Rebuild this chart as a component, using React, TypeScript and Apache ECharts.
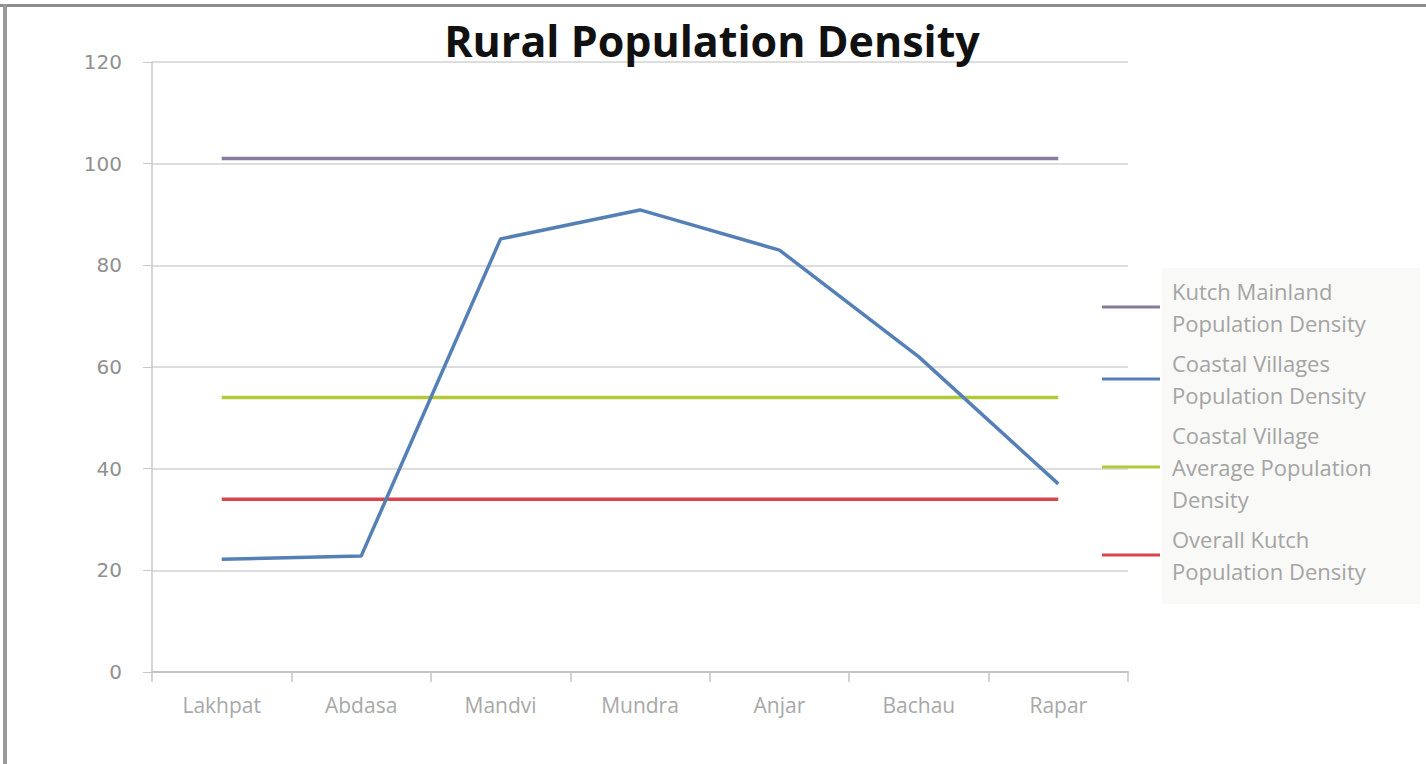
import React, { useEffect, useRef } from "react";
import * as echarts from "echarts";

const categories = ["Lakhpat", "Abdasa", "Mandvi", "Mundra", "Anjar", "Bachau", "Rapar"];
const seriesNames = [
  "Kutch Mainland\nPopulation Density",
  "Coastal Villages\nPopulation Density",
  "Coastal Village\nAverage Population\nDensity",
  "Overall Kutch\nPopulation Density",
];
const mainland = [101, 101, 101, 101, 101, 101, 101];
const coastal = [22.2, 22.8, 85.2, 90.9, 83, 62, 37];
const coastalAvg = [54, 54, 54, 54, 54, 54, 54];
const overall = [34, 34, 34, 34, 34, 34, 34];
const colors = ["#8a7c9f", "#5580b6", "#b3c93a", "#d8454f"];

export default function App() {
  const ref = useRef<HTMLDivElement>(null);
  useEffect(() => {
    document.body.style.margin = "0";
    const chart = echarts.init(ref.current!, null, { renderer: "svg" });
    const values = [mainland, coastal, coastalAvg, overall];
    chart.setOption({
      animation: false,
      backgroundColor: "#ffffff",
      title: {
        text: "Rural Population Density",
        left: 707,
        textAlign: "center",
        top: 14,
        textStyle: { fontFamily: "Open Sans", fontWeight: "bold", fontSize: 43, color: "#111" },
      },
      graphic: [
        { type: "rect", shape: { x: 0, y: 4, width: 1426, height: 3 }, style: { fill: "#8c8c8c" } },
        { type: "rect", shape: { x: 3, y: 4, width: 4, height: 760 }, style: { fill: "#9a9a9a" } },
        { type: "rect", z: -1, shape: { x: 1162, y: 268, width: 258, height: 336 }, style: { fill: "#f9f9f7" } },
      ],
      grid: { left: 152, right: 298, top: 62, bottom: 92 },
      legend: {
        orient: "vertical",
        left: 1102,
        top: 275,
        padding: 0,
        itemGap: 8,
        itemWidth: 58,
        itemHeight: 3,
        icon: "rect",
        data: seriesNames,
        textStyle: { fontFamily: "Open Sans", fontSize: 22, color: "#a4a4a4", lineHeight: 32, padding: [0, 0, 0, 7] },
      },
      xAxis: {
        type: "category",
        data: categories,
        boundaryGap: true,
        axisLine: { lineStyle: { color: "#c4c4c4", width: 2 } },
        axisTick: { show: true, length: 10, lineStyle: { color: "#c4c4c4", width: 1.5 } },
        axisLabel: { fontFamily: "Open Sans", fontSize: 21, color: "#a8a8a8", margin: 22 },
      },
      yAxis: {
        type: "value",
        min: 0,
        max: 120,
        interval: 20,
        axisLine: { show: true, lineStyle: { color: "#c8c8c8", width: 1.5 } },
        axisTick: { show: true, length: 9, lineStyle: { color: "#c8c8c8" } },
        splitLine: { lineStyle: { color: "#d2d2d2", width: 1.5 } },
        axisLabel: { fontFamily: "DejaVu Sans", fontSize: 20, color: "#909090", margin: 30 },
      },
      series: seriesNames.map((name, i) => ({
        name,
        type: "line",
        data: values[i],
        symbol: "none",
        lineStyle: { color: colors[i], width: 3.5 },
        itemStyle: { color: colors[i] },
        z: i === 1 ? 5 : 3,
      })),
    });
    return () => chart.dispose();
  }, []);
  return <div ref={ref} style={{ width: 1426, height: 764 }} />;
}
